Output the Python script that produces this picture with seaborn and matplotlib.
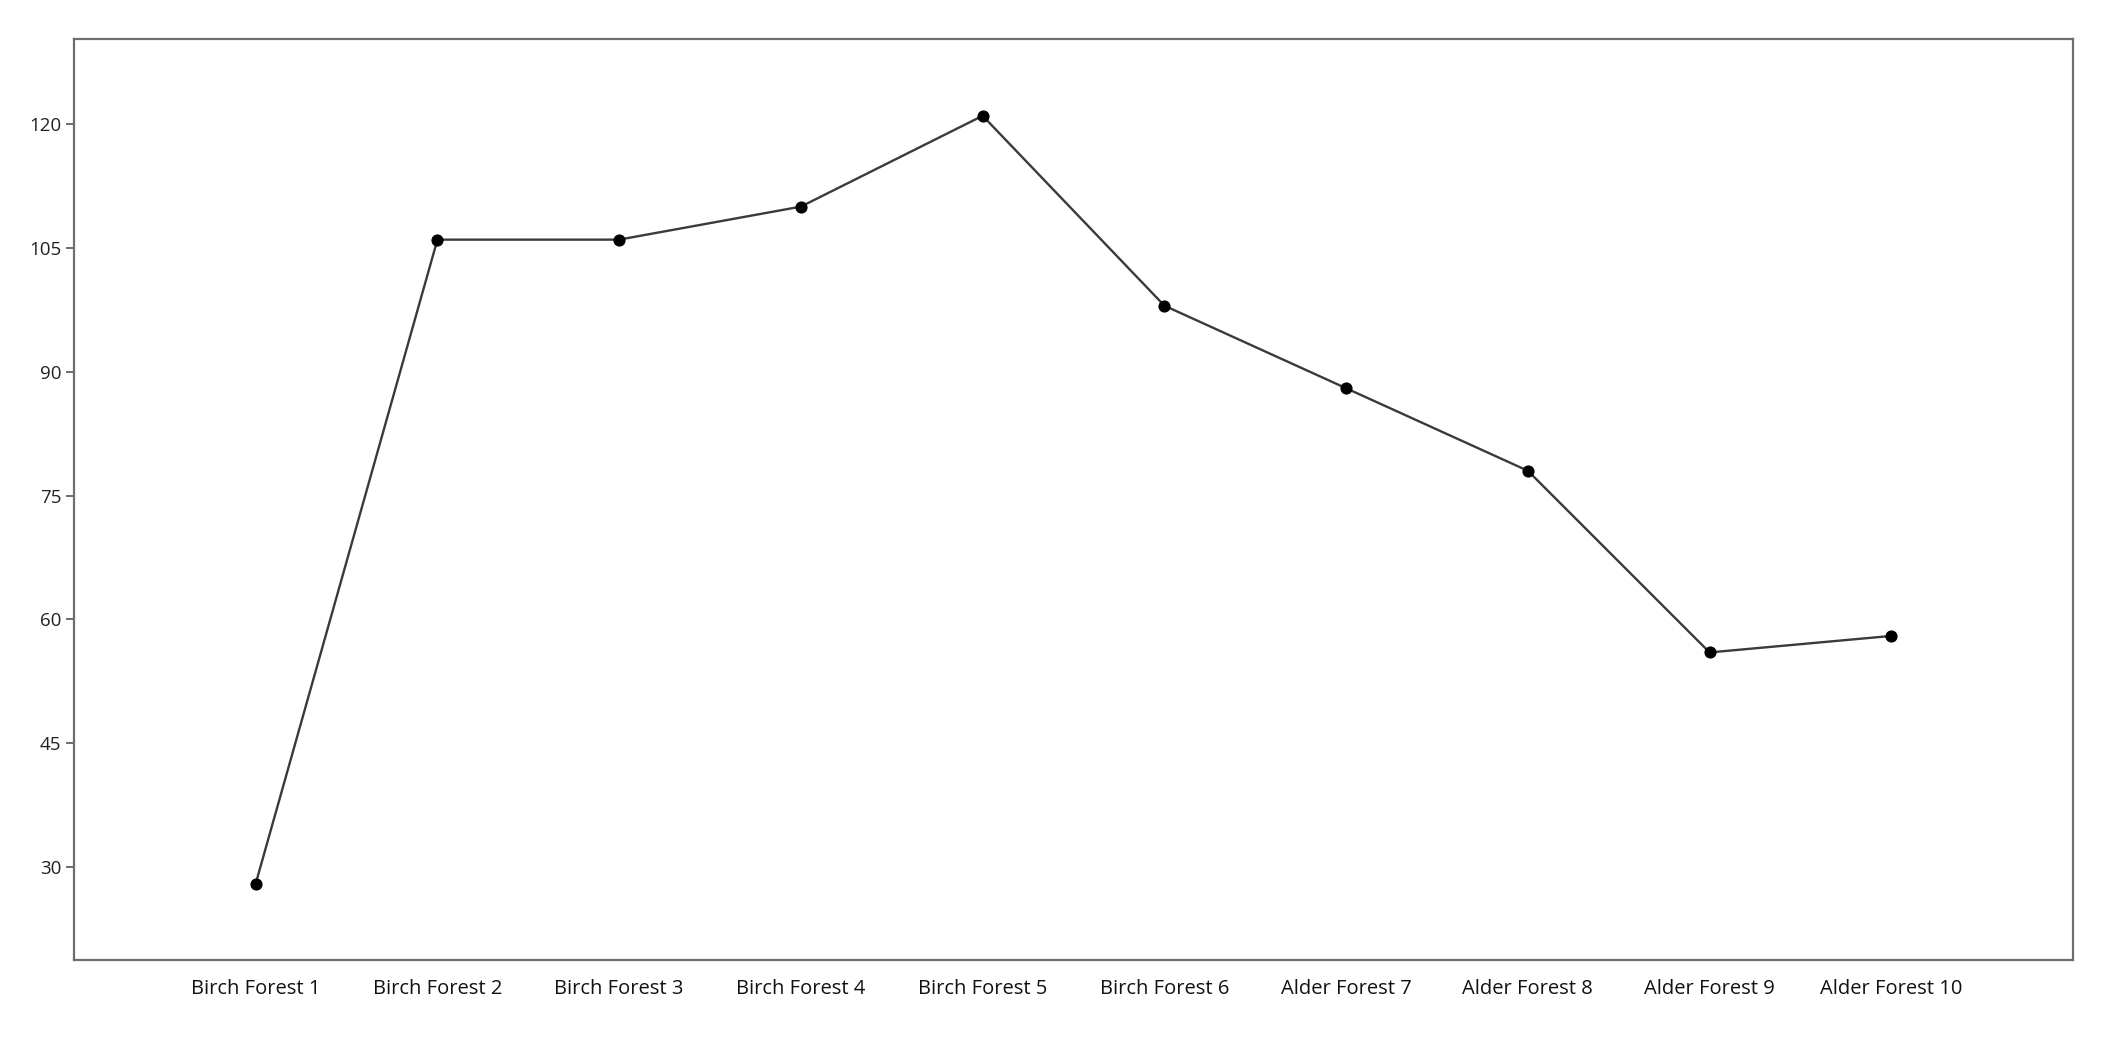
"""Line chart of forest plots"""

from matplotlib import pyplot as plt
import seaborn as sns
import pandas as pd

sites = ['Birch Forest 1', 'Birch Forest 2', 'Birch Forest 3', 'Birch Forest 4',
         'Birch Forest 5', 'Birch Forest 6', 'Alder Forest 7', 'Alder Forest 8',
         'Alder Forest 9', 'Alder Forest 10']
values = [28, 106, 106, 110, 121, 98, 88, 78, 56, 58]
y_ticks = [30, 45, 60, 75, 90, 105, 120]

sns.set_style('white')
plt.rcParams['font.family'] = ['Open Sans', 'DejaVu Sans']

df = pd.DataFrame({'site': sites, 'value': values})

fig = plt.figure(figsize=(21.07, 10.43), dpi=100)
ax = fig.add_axes([0.0351, 0.0796, 0.9488, 0.883])

sns.lineplot(
    data=df, x='site', y='value', sort=False,
    color='#3a3a3a', linewidth=1.7,
    marker='o', markersize=8, markerfacecolor='black', markeredgecolor='black',
    ax=ax
)

ax.set_xlim(-1, len(sites))
ax.set_ylim(18.75, 130.3)
ax.set_yticks(y_ticks)
ax.set_xlabel('')
ax.set_ylabel('')

for s in ax.spines.values():
    s.set_color('#6e6e6e')
    s.set_linewidth(1.6)

ax.tick_params(axis='y', left=True, length=6, width=1.4, color='#6e6e6e',
               labelsize=13.5, labelcolor='#222222', pad=3)
ax.tick_params(axis='x', bottom=False, labelsize=14.5, labelcolor='#111111', pad=10)

fig.savefig('out.png', dpi=100, facecolor='white')
